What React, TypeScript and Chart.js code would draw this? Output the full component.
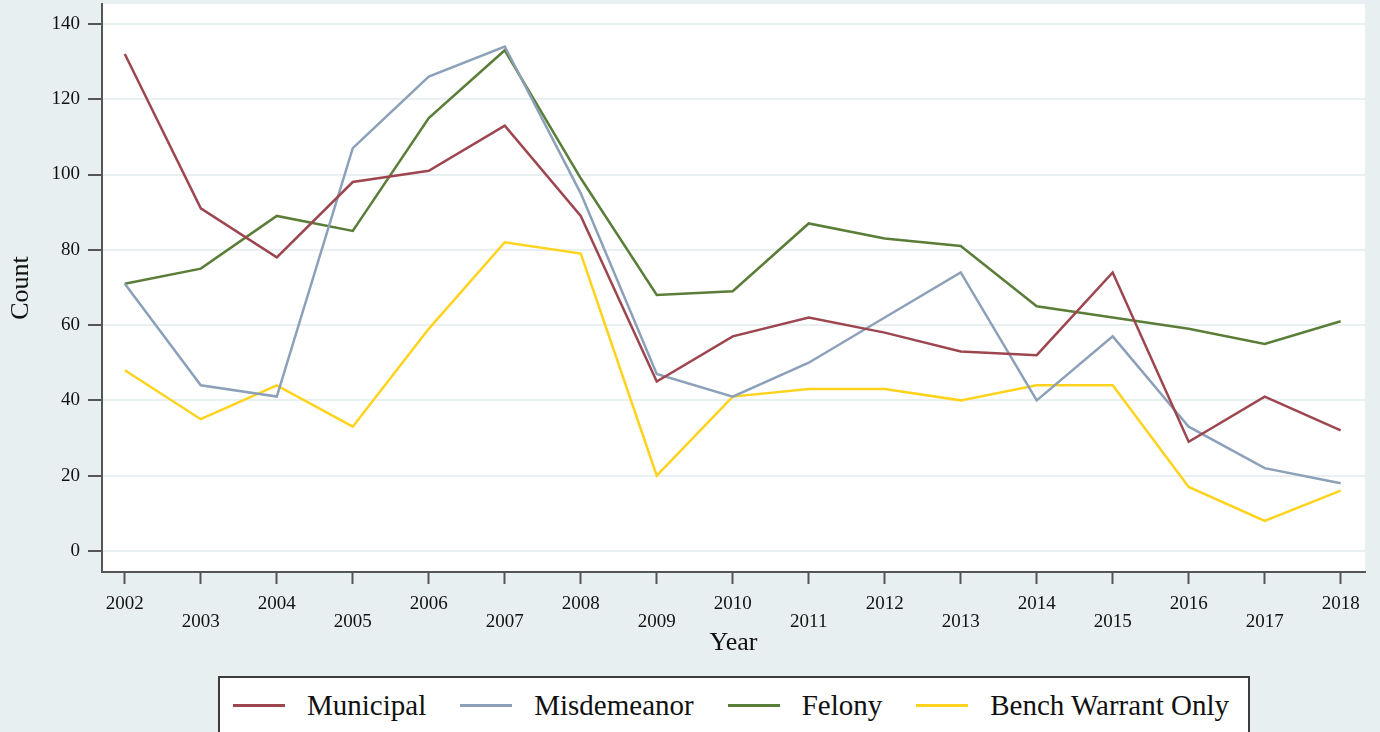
import React, { useEffect, useRef } from "react";
import { Chart, registerables } from "chart.js";

Chart.register(...registerables);

const years = [2002, 2003, 2004, 2005, 2006, 2007, 2008, 2009, 2010, 2011, 2012, 2013, 2014, 2015, 2016, 2017, 2018];
const municipal = [132, 91, 78, 98, 101, 113, 89, 45, 57, 62, 58, 53, 52, 74, 29, 41, 32];
const misdemeanor = [71, 44, 41, 107, 126, 134, 95, 47, 41, 50, 62, 74, 40, 57, 33, 22, 18];
const felony = [71, 75, 89, 85, 115, 133, 99, 68, 69, 87, 83, 81, 65, 62, 59, 55, 61];
const benchWarrant = [48, 35, 44, 33, 59, 82, 79, 20, 41, 43, 43, 40, 44, 44, 17, 8, 16];
const yTicks = [0, 20, 40, 60, 80, 100, 120, 140];
const seriesNames = ["Municipal", "Misdemeanor", "Felony", "Bench Warrant Only"];
const seriesValues = [municipal, misdemeanor, felony, benchWarrant];
const seriesColors = ["#9e4650", "#8ca1b9", "#5a7e38", "#ffd31c"];

const SERIF = '"Liberation Serif", "Times New Roman", serif';
const BG = "#e8eff1";

const bgPlugin = {
  id: "bgPlugin",
  beforeDraw(chart: any) {
    const { ctx, chartArea } = chart;
    ctx.save();
    ctx.fillStyle = BG;
    ctx.fillRect(0, 0, chart.width, chart.height);
    ctx.fillStyle = "#ffffff";
    ctx.fillRect(chartArea.left, chartArea.top, chartArea.right - chartArea.left, chartArea.bottom - chartArea.top);
    ctx.restore();
  },
};

export default function App() {
  const canvasRef = useRef<HTMLCanvasElement | null>(null);

  useEffect(() => {
    if (!canvasRef.current) return;
    const chart = new Chart(canvasRef.current, {
      type: "line",
      data: {
        datasets: seriesNames.map((name, i) => ({
          label: name,
          data: years.map((y, j) => ({ x: y, y: seriesValues[i][j] })),
          borderColor: seriesColors[i],
          backgroundColor: seriesColors[i],
          borderWidth: 2.5,
          pointRadius: 0,
          tension: 0,
          fill: false,
        })),
      },
      options: {
        animation: false,
        responsive: true,
        maintainAspectRatio: false,
        layout: { padding: { left: 0, top: 4, right: 15, bottom: 73 } },
        plugins: {
          legend: { display: false },
          tooltip: { enabled: false },
        },
        scales: {
          x: {
            type: "linear",
            min: 2001.7,
            max: 2018.32,
            afterBuildTicks: (scale: any) => {
              scale.ticks = years.map((v) => ({ value: v }));
            },
            afterFit: (scale: any) => {
              scale.height = 87;
              scale.paddingLeft = 0;
              scale.paddingRight = 0;
            },
            ticks: {
              autoSkip: false,
              maxRotation: 0,
              minRotation: 0,
              padding: 11,
              color: "#111",
              font: { family: SERIF, size: 19, lineHeight: 0.95 },
              callback: (v: any) => (Number(v) % 2 === 0 ? [String(v), ""] : ["", String(v)]),
            },
            grid: {
              drawOnChartArea: false,
              drawTicks: true,
              tickLength: 12,
              tickColor: "#555",
              tickWidth: 2,
            },
            border: { display: true, color: "#555", width: 2 },
            title: {
              display: true,
              text: "Year",
              color: "#111",
              font: { family: SERIF, size: 26 },
              padding: { top: 0, bottom: 0 },
            },
          },
          y: {
            type: "linear",
            min: -5.6,
            max: 145.3,
            afterBuildTicks: (scale: any) => {
              scale.ticks = yTicks.map((v) => ({ value: v }));
            },
            afterFit: (scale: any) => {
              scale.width = 102;
              scale.paddingTop = 0;
              scale.paddingBottom = 0;
            },
            ticks: {
              padding: 8,
              color: "#111",
              font: { family: SERIF, size: 19 },
            },
            grid: {
              color: "#e8f0f2",
              lineWidth: 2,
              tickLength: 14,
              tickColor: "#555",
              tickWidth: 2,
            },
            border: { display: true, color: "#555", width: 2 },
            title: {
              display: true,
              text: "Count",
              color: "#111",
              font: { family: SERIF, size: 26 },
              padding: { top: 6, bottom: 0 },
            },
          },
        },
      },
      plugins: [bgPlugin],
    } as any);
    return () => chart.destroy();
  }, []);

  return (
    <div style={{ position: "absolute", left: 0, top: 0, width: 1380, height: 732, overflow: "hidden", background: BG }}>
      <canvas ref={canvasRef} style={{ position: "absolute", left: 0, top: 0 }} />
      <div
        style={{
          position: "absolute",
          left: 218,
          top: 676,
          width: 1032,
          height: 58,
          boxSizing: "border-box",
          border: "2px solid #3c3c3c",
          background: "#ffffff",
          display: "flex",
          alignItems: "center",
          paddingLeft: 13,
        }}
      >
        {seriesNames.map((name, i) => (
          <div key={name} style={{ display: "flex", alignItems: "center", marginRight: 34 }}>
            <span style={{ display: "inline-block", width: 52, height: 3, background: seriesColors[i], marginRight: 22 }} />
            <span style={{ fontFamily: SERIF, fontSize: 29, color: "#111", whiteSpace: "nowrap" }}>{name}</span>
          </div>
        ))}
      </div>
    </div>
  );
}
